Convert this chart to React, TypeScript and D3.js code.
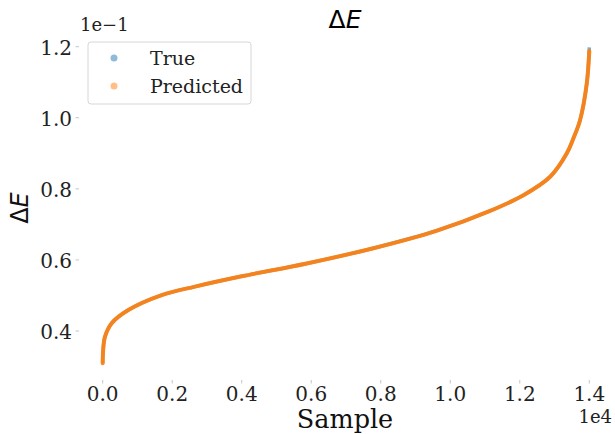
import React from "react";
import * as d3 from "d3";

// sorted sample index -> deltaE
const sampleIdx = [0, 12, 66, 259, 737, 1698, 2656, 4000, 5870, 7787, 9600, 11145, 12104, 12873, 13353, 13542, 13736, 13928, 14000];
const trueVals = [0.0309, 0.0345, 0.0384, 0.0422, 0.0459, 0.0501, 0.0525, 0.0554, 0.059, 0.0633, 0.0682, 0.0738, 0.0782, 0.0834, 0.09, 0.0942, 0.0994, 0.1097, 0.1198];
const predVals = [0.0309, 0.0345, 0.0384, 0.0422, 0.0459, 0.0501, 0.0525, 0.0554, 0.059, 0.0633, 0.0682, 0.0738, 0.0782, 0.0834, 0.09, 0.0942, 0.0994, 0.1097, 0.1188];

const xTicks = [0, 2000, 4000, 6000, 8000, 10000, 12000, 14000];
const yTicks = [0.04, 0.06, 0.08, 0.1, 0.12];
const legendItems = ["True", "Predicted"];
const seriesColors = ["#1f77b4", "#ff7f0e"];

const W = 615;
const H = 434;

export default function App() {
  const x = d3.scaleLinear().domain([0, 14000]).range([102.7, 589.3]);
  const y = d3.scaleLinear().domain([0.04, 0.12]).range([331, 46.7]);

  const line = d3
    .line<number>()
    .x((_d, i) => x(sampleIdx[i]))
    .y((d) => y(d))
    .curve(d3.curveCatmullRom.alpha(0.5));

  const serif = "'DejaVu Serif', serif";
  const sans = "'DejaVu Sans', sans-serif";

  return (
    <svg
      width={W}
      height={H}
      style={{ position: "absolute", left: 0, top: 0, background: "#fff" }}
    >
      {/* title */}
      <text x={345} y={28} textAnchor="middle" fontFamily={sans} fontSize={25} fill="#000">
        <tspan>Δ</tspan>
        <tspan fontStyle="italic">E</tspan>
      </text>

      {/* y ticks */}
      {yTicks.map((t) => (
        <g key={t}>
          <line x1={75.5} x2={79} y1={y(t)} y2={y(t)} stroke="#b5b5b5" strokeWidth={0.8} />
          <text x={72} y={y(t) + 8} textAnchor="end" fontFamily={serif} fontSize={20} fill="#222">
            {(t * 10).toFixed(1)}
          </text>
        </g>
      ))}
      <text x={80} y={31} fontFamily={serif} fontSize={18} fill="#222">
        1e−1
      </text>

      {/* x ticks */}
      {xTicks.map((t) => (
        <g key={t}>
          <line x1={x(t)} x2={x(t)} y1={380} y2={383.5} stroke="#b5b5b5" strokeWidth={0.8} />
          <text x={x(t)} y={400.5} textAnchor="middle" fontFamily={serif} fontSize={20} fill="#222">
            {(t / 1e4).toFixed(1)}
          </text>
        </g>
      ))}
      <text x={612} y={423} textAnchor="end" fontFamily={serif} fontSize={18} fill="#222">
        1e4
      </text>

      {/* axis labels */}
      <text x={345} y={428} textAnchor="middle" fontFamily={serif} fontSize={25.5} fill="#111">
        Sample
      </text>
      <text
        transform="translate(28,208) rotate(-90)"
        textAnchor="middle"
        fontFamily={sans}
        fontSize={24}
        fill="#111"
      >
        <tspan>Δ</tspan>
        <tspan fontStyle="italic">E</tspan>
      </text>

      {/* series */}
      <path d={line(trueVals) || ""} fill="none" stroke={seriesColors[0]} strokeOpacity={0.6} strokeWidth={3.5} />
      <path d={line(predVals) || ""} fill="none" stroke={seriesColors[1]} strokeOpacity={0.92} strokeWidth={4} strokeLinecap="round" />

      {/* legend */}
      <g>
        <rect x={88} y={42} width={163} height={62} rx={3} fill="#fff" fillOpacity={0.8} stroke="#d6d6d6" strokeWidth={1} />
        {legendItems.map((name, i) => (
          <g key={name}>
            <circle cx={114} cy={58 + i * 28} r={3.5} fill={seriesColors[i]} fillOpacity={0.5} />
            <text x={150} y={64.5 + i * 28} fontFamily={serif} fontSize={19} fill="#222">
              {name}
            </text>
          </g>
        ))}
      </g>
    </svg>
  );
}
